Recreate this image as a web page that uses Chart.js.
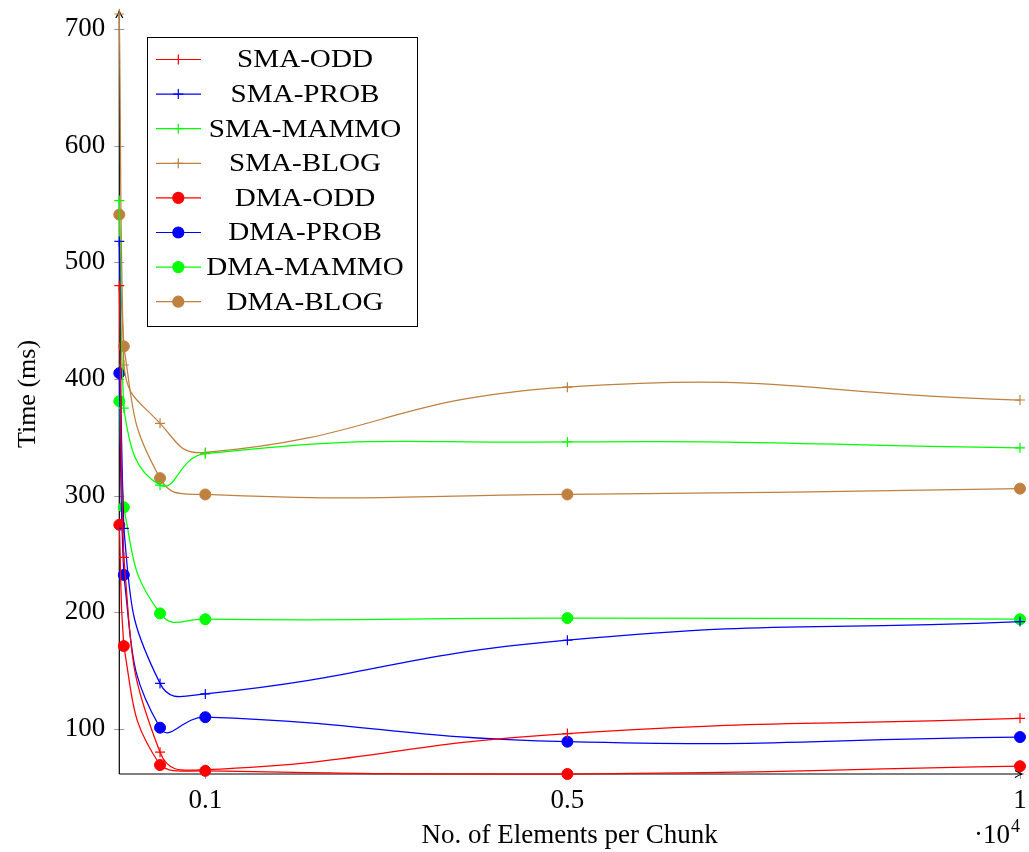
<!DOCTYPE html>
<html>
<head>
<meta charset="utf-8">
<script src="https://cdn.jsdelivr.net/npm/chart.js@4.4.0/dist/chart.umd.min.js"></script>
<style>
  html, body { margin: 0; padding: 0; background: #fff; }
  #wrap { width: 1029px; height: 852px; }
</style>
</head>
<body>
<div id="wrap"><canvas id="myChart" width="1029" height="852"></canvas></div>
<script>
// chunk sizes (x) and timings in ms
const xValues = [50, 100, 500, 1000, 5000, 10000];
const smaOdd   = [480, 247, 80, 65, 96, 109];
const smaProb  = [518, 272, 139, 130, 176, 192];
const smaMammo = [553, 375, 309, 336, 346, 341];
const smaBlog  = [713, 412, 362, 337, 393, 382];
const dmaOdd   = [275, 171, 69, 64, 61.3, 68];
const dmaProb  = [405, 232, 101, 110, 89, 93];
const dmaMammo = [381, 290, 199, 194, 195, 194];
const dmaBlog  = [541, 428, 315, 301, 301, 306];

const seriesNames = ["SMA-ODD", "SMA-PROB", "SMA-MAMMO", "SMA-BLOG", "DMA-ODD", "DMA-PROB", "DMA-MAMMO", "DMA-BLOG"];
const xTicks = [1000, 5000, 10000];
const xTickLabels = ["0.1", "0.5", "1"];
const yTicks = [100, 200, 300, 400, 500, 600, 700];

const RED = "#ff0000", BLUE = "#0000ff", GREEN = "#00ff00", BROWN = "#bf8040";
const FONT = "'Liberation Serif', 'Times New Roman', serif";

const allSeries = [smaOdd, smaProb, smaMammo, smaBlog, dmaOdd, dmaProb, dmaMammo, dmaBlog];
const colors = [RED, BLUE, GREEN, BROWN, RED, BLUE, GREEN, BROWN];

function pts(arr) {
    return arr.map((v, i) => ({x: xValues[i], y: v}));
}

const datasets = allSeries.map((s, i) => {
    const sma = i < 4;
    return {
        label: seriesNames[i],
        data: pts(s),
        borderColor: colors[i],
        backgroundColor: colors[i],
        borderWidth: 1.25,
        pointStyle: sma ? 'cross' : 'circle',
        pointRadius: sma ? 5 : 5.5,
        pointBorderWidth: sma ? 1.2 : 1,
        tension: 0.5,
        clip: false
    };
});

const flat = allSeries.flat();
const yMin = Math.min(...flat);
const yMax = Math.max(...flat);

function noPad(s) {
    s.paddingTop = 0; s.paddingBottom = 0; s.paddingLeft = 0; s.paddingRight = 0;
}

// axis lines with arrows, ticks crossing the axes
const axesPlugin = {
    id: 'axes',
    beforeDatasetsDraw(chart) {
        const {ctx, chartArea: a, scales: {x, y}} = chart;
        ctx.save();
        ctx.strokeStyle = '#999';
        ctx.lineWidth = 1;
        yTicks.forEach(v => {
            const py = Math.round(y.getPixelForValue(v)) + 0.5;
            ctx.beginPath(); ctx.moveTo(a.left - 5, py); ctx.lineTo(a.left + 5, py); ctx.stroke();
        });
        xTicks.forEach(v => {
            const px = Math.round(x.getPixelForValue(v)) + 0.5;
            ctx.beginPath(); ctx.moveTo(px, a.bottom - 5); ctx.lineTo(px, a.bottom + 5); ctx.stroke();
        });
        ctx.strokeStyle = '#000';
        ctx.lineWidth = 1.2;
        ctx.beginPath();
        ctx.moveTo(a.left, a.bottom); ctx.lineTo(a.left, a.top - 3);
        ctx.moveTo(a.left, a.bottom); ctx.lineTo(a.right + 2, a.bottom);
        ctx.stroke();
        // arrow heads
        ctx.beginPath();
        ctx.moveTo(a.left - 3.5, a.top + 4); ctx.quadraticCurveTo(a.left - 0.5, a.top - 1, a.left, a.top - 3);
        ctx.quadraticCurveTo(a.left + 0.5, a.top - 1, a.left + 3.5, a.top + 4);
        ctx.moveTo(a.right - 5, a.bottom - 3.5); ctx.quadraticCurveTo(a.right, a.bottom - 0.5, a.right + 2, a.bottom);
        ctx.quadraticCurveTo(a.right, a.bottom + 0.5, a.right - 5, a.bottom + 3.5);
        ctx.stroke();
        ctx.restore();
    }
};

// pgfplots style legend box + the x10^4 multiplier
const legendPlugin = {
    id: 'boxLegend',
    afterDraw(chart) {
        const ctx = chart.ctx;
        const bx = 147.5, by = 37.5, bw = 270, bh = 289;
        ctx.save();
        ctx.fillStyle = '#fff';
        ctx.fillRect(bx, by, bw, bh);
        ctx.strokeStyle = '#000';
        ctx.lineWidth = 1;
        ctx.strokeRect(bx, by, bw, bh);
        chart.data.datasets.forEach((ds, i) => {
            const yy = 59.5 + i * 34.6;
            ctx.strokeStyle = ds.borderColor;
            ctx.fillStyle = ds.backgroundColor;
            ctx.lineWidth = 1.2;
            ctx.beginPath(); ctx.moveTo(156, yy); ctx.lineTo(201, yy); ctx.stroke();
            Chart.helpers.drawPoint(ctx, {pointStyle: ds.pointStyle, radius: ds.pointRadius, rotation: 0, borderWidth: ds.pointBorderWidth}, 178.3, yy);
            ctx.save();
            ctx.translate(305, yy + 1);
            ctx.scale(1.12, 1);
            ctx.fillStyle = '#000';
            ctx.font = "26px " + FONT;
            ctx.textAlign = 'center';
            ctx.textBaseline = 'middle';
            ctx.fillText(ds.label, 0, 0);
            ctx.restore();
        });
        // multiplier
        ctx.fillStyle = '#000';
        ctx.textBaseline = 'alphabetic';
        ctx.textAlign = 'right';
        ctx.font = "18px " + FONT;
        ctx.fillText("4", 1020, 832);
        ctx.font = "27px " + FONT;
        ctx.fillText("\u00b710", 1010, 843);
        ctx.restore();
    }
};

new Chart("myChart", {
    type: "line",
    data: {datasets: datasets},
    options: {
        responsive: false,
        animation: false,
        events: [],
        layout: {padding: {top: 14, right: 9, left: 0, bottom: 0}},
        plugins: {legend: {display: false}, tooltip: {enabled: false}},
        scales: {
            x: {
                type: 'linear',
                min: xValues[0],
                max: xValues[xValues.length - 1],
                afterBuildTicks: s => { s.ticks = xTicks.map(v => ({value: v})); },
                afterFit: s => { s.height = 78; noPad(s); },
                grid: {display: false, drawTicks: false},
                border: {display: false},
                ticks: {
                    color: '#000',
                    font: {family: FONT, size: 27},
                    padding: 11,
                    maxRotation: 0,
                    callback: v => xTickLabels[xTicks.indexOf(v)]
                },
                title: {
                    display: true,
                    text: "No. of Elements per Chunk",
                    color: '#000',
                    font: {family: FONT, size: 27},
                    padding: {top: 0, bottom: 0}
                }
            },
            y: {
                type: 'linear',
                min: yMin,
                max: yMax,
                afterBuildTicks: s => { s.ticks = yTicks.map(v => ({value: v})); },
                afterFit: s => { s.width = 119.3; noPad(s); },
                grid: {display: false, drawTicks: false},
                border: {display: false},
                ticks: {
                    color: '#000',
                    font: {family: FONT, size: 27},
                    padding: 14
                },
                title: {
                    display: true,
                    text: "Time (ms)",
                    color: '#000',
                    font: {family: FONT, size: 26},
                    padding: {top: 13, bottom: 0}
                }
            }
        }
    },
    plugins: [axesPlugin, legendPlugin]
});
</script>
</body>
</html>
